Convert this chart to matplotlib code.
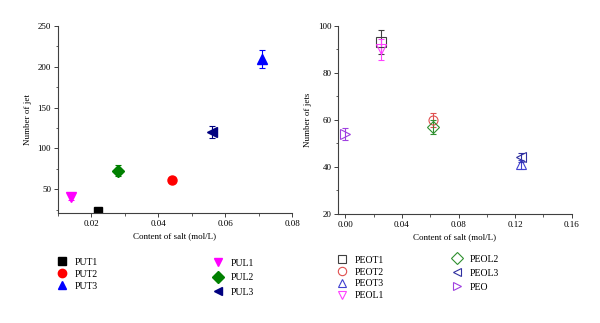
import matplotlib.pyplot as plt
from matplotlib.lines import Line2D
from matplotlib.ticker import MultipleLocator, AutoMinorLocator

plt.rcParams['font.family'] = 'Liberation Serif'
plt.rcParams['font.size'] = 6.5

# left panel: PU series
pu_names = ["PUT1", "PUT2", "PUT3", "PUL1", "PUL2", "PUL3"]
pu_x = [0.022, 0.044, 0.071, 0.014, 0.028, 0.056]
pu_y = [24, 62, 210, 40, 73, 120]
pu_err = [2, 3, 11, 3, 7, 7]
pu_marker = ["s", "o", "^", "v", "D", "<"]
pu_color = ["#000000", "#ff0000", "#0000ff", "#ff00ff", "#008000", "#000080"]
pu_ms = [6, 6.5, 7.5, 7, 6, 7.5]

# right panel: PEO series
peo_names = ["PEOT1", "PEOT2", "PEOT3", "PEOL1", "PEOL2", "PEOL3", "PEO"]
peo_x = [0.025, 0.062, 0.124, 0.025, 0.062, 0.124, 0.0]
peo_y = [93, 60, 41, 90, 57, 44, 54]
peo_err = [5, 3, 2, 4.5, 3, 2, 2.5]
peo_marker = ["s", "o", "^", "v", "D", "<", ">"]
peo_color = ["#404040", "#e05050", "#4040d0", "#ff40ff", "#309030", "#3030a0", "#a040e0"]

fig = plt.figure(figsize=(6, 3.23), dpi=100)
ax1 = fig.add_axes([0.0967, 0.3406, 0.39, 0.579])
ax2 = fig.add_axes([0.564, 0.3384, 0.3886, 0.582])

for i in range(len(pu_names)):
    ax1.errorbar(pu_x[i], pu_y[i], yerr=pu_err[i], fmt=pu_marker[i], color=pu_color[i],
                 ms=pu_ms[i], capsize=2.5, elinewidth=0.8, capthick=0.8)

for i in range(len(peo_names)):
    ax2.errorbar(peo_x[i], peo_y[i], yerr=peo_err[i], fmt=peo_marker[i], color=peo_color[i],
                 mfc='none', ms=6.5, mew=0.8, capsize=2.5, elinewidth=0.8, capthick=0.8)

ax1.set_xlim(0.01, 0.08)
ax1.set_ylim(21, 250)
ax1.yaxis.set_major_locator(MultipleLocator(50))
ax1.set_xticks([0.02, 0.04, 0.06, 0.08])
ax1.set_xticklabels(["0.02", "0.04", "0.06", "0.08"])
ax1.set_ylabel("Number of jet")

ax2.set_xlim(-0.005, 0.16)
ax2.set_ylim(20, 100)
ax2.set_xticks([0.0, 0.04, 0.08, 0.12, 0.16])
ax2.set_xticklabels(["0.00", "0.04", "0.08", "0.12", "0.16"])
ax2.yaxis.set_major_locator(MultipleLocator(20))
ax2.set_ylabel("Number of jets")

for ax in [ax1, ax2]:
    ax.set_xlabel("Content of salt (mol/L)", labelpad=3)
    ax.spines['top'].set_visible(False)
    ax.spines['right'].set_visible(False)
    ax.spines['left'].set_color('#404040')
    ax.spines['bottom'].set_color('#404040')
    ax.xaxis.set_minor_locator(AutoMinorLocator(2))
    ax.yaxis.set_minor_locator(AutoMinorLocator(2))
    ax.tick_params(which='major', direction='out', length=3, width=0.7, color='#404040', pad=2)
    ax.tick_params(which='minor', direction='out', length=1.8, width=0.6, color='#404040')


def add_legend(idx, names, markers, colors, filled, x, y, spacing):
    handles = []
    for i in idx:
        if filled:
            h = Line2D([], [], ls='none', marker=markers[i], color=colors[i], ms=6)
        else:
            h = Line2D([], [], ls='none', marker=markers[i], color=colors[i], mfc='none', ms=6, mew=0.8)
        handles.append(h)
    leg = fig.legend(handles, [names[i] for i in idx], loc='upper left',
                     bbox_to_anchor=(x / 600, 1 - y / 323), frameon=False,
                     borderpad=0, handlelength=1, handletextpad=0.8,
                     labelspacing=spacing, fontsize=7)
    return leg


add_legend([0, 1, 2], pu_names, pu_marker, pu_color, True, 52, 253, 0.3)
add_legend([3, 4, 5], pu_names, pu_marker, pu_color, True, 208, 254, 0.55)
add_legend([0, 1, 2, 3], peo_names, peo_marker, peo_color, False, 332, 251, 0.28)
add_legend([4, 5, 6], peo_names, peo_marker, peo_color, False, 447, 250, 0.5)

fig.savefig("out.png", dpi=100)
